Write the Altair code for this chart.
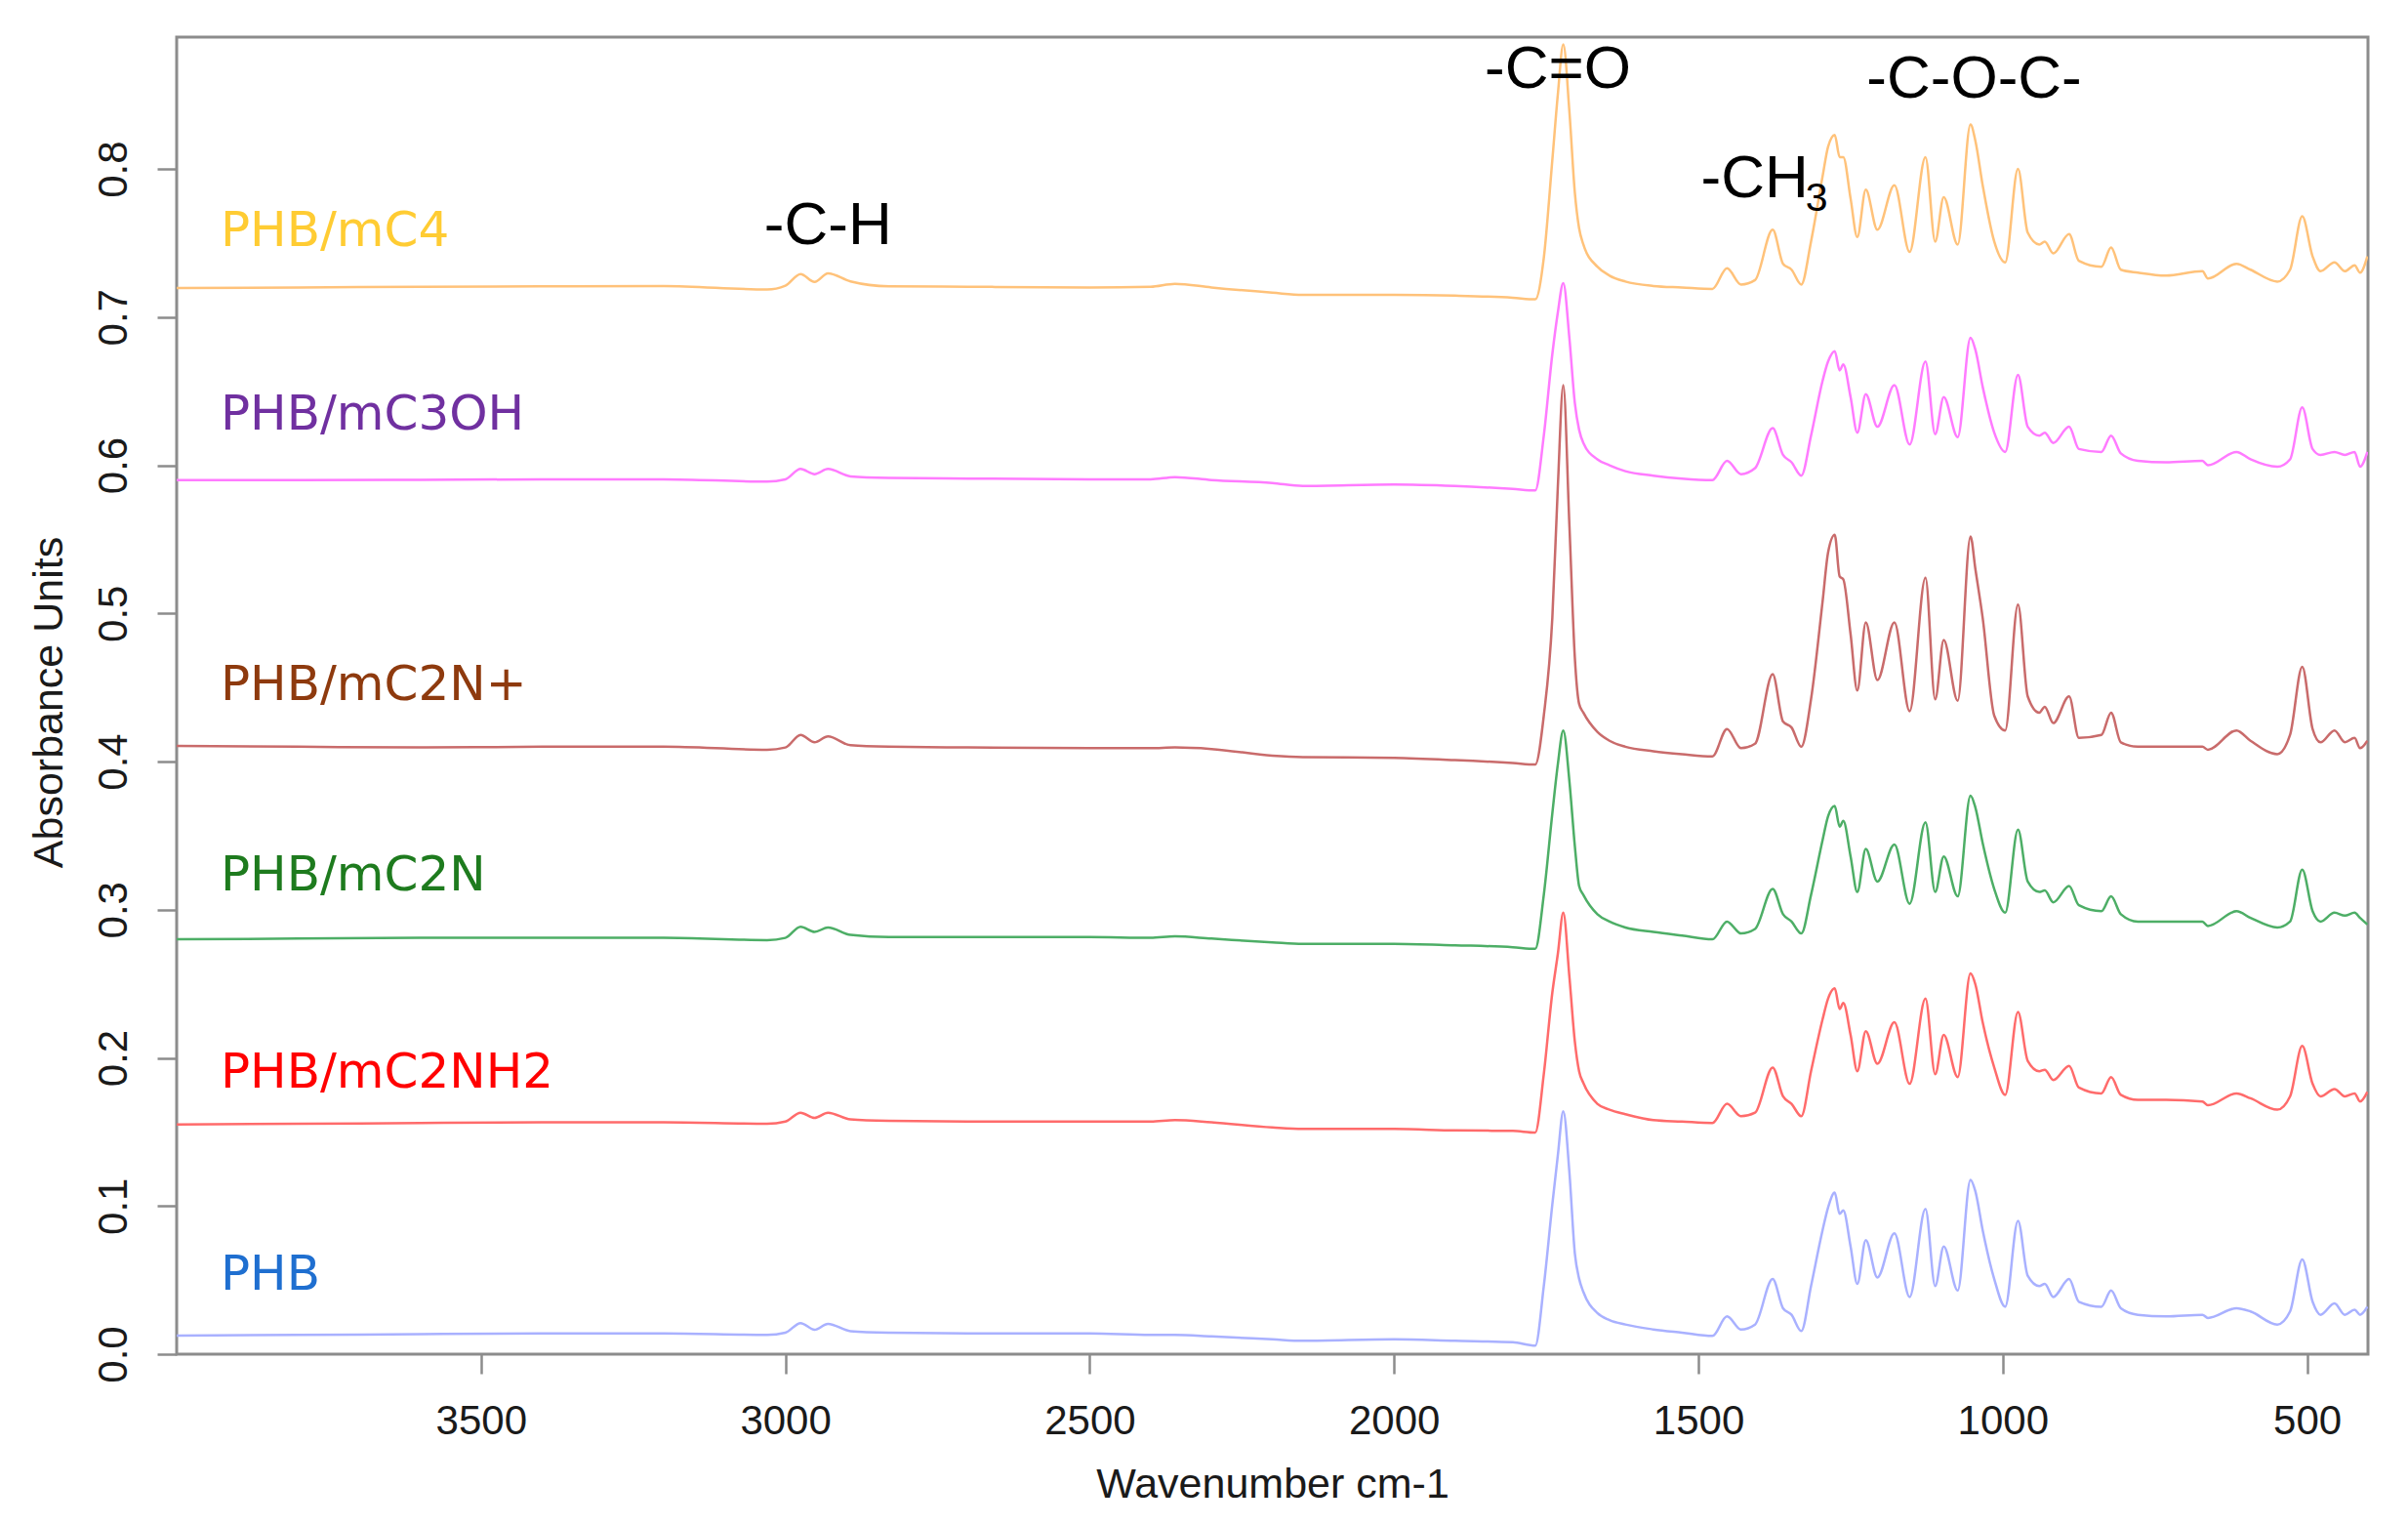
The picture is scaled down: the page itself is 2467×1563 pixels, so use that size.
import altair as alt
import pandas as pd

# ---- data ----
WAVENUMBER = [4000, 3800, 3600, 3400, 3200, 3030, 3000, 2975, 2952, 2930, 2893, 2830, 2700, 2500, 2400, 2360, 2300, 2200, 2150, 2000, 1900,
              1805, 1768, 1754, 1740, 1731, 1722, 1712, 1703, 1696, 1689, 1666, 1646,
              1620, 1574, 1527, 1477, 1453, 1430, 1407, 1378, 1361, 1347,
              1331, 1315, 1296, 1287, 1276, 1268, 1262, 1250, 1239, 1225,
              1206, 1178, 1153, 1127, 1111, 1097, 1074, 1053, 1045, 1033,
              1014, 996, 975, 959, 940, 931, 917, 891, 875, 838,
              822, 806, 778, 732, 672, 663, 616, 593, 549, 528,
              508, 491, 478, 455, 438, 422, 413, 401]

PHB_mC4 = [0.7197, 0.7200, 0.7205, 0.7208, 0.7210, 0.7186, 0.7212, 0.7290, 0.7237, 0.7295, 0.7241, 0.7208, 0.7205, 0.7200, 0.7205, 0.7225, 0.7200, 0.7165, 0.7150, 0.7150, 0.7145,
           0.7131, 0.7120, 0.7400, 0.8060, 0.8500, 0.8840, 0.8390, 0.7840, 0.7600, 0.7490, 0.7340, 0.7280,
           0.7240, 0.7210, 0.7200, 0.7190, 0.7330, 0.7220, 0.7250, 0.7590, 0.7360, 0.7320,
           0.7220, 0.7510, 0.7950, 0.8150, 0.8230, 0.8080, 0.8080, 0.7800, 0.7540, 0.7860,
           0.7590, 0.7890, 0.7440, 0.8080, 0.7510, 0.7810, 0.7490, 0.8300, 0.8190, 0.7890,
           0.7510, 0.7370, 0.8000, 0.7570, 0.7490, 0.7510, 0.7430, 0.7560, 0.7380, 0.7340,
           0.7470, 0.7320, 0.7300, 0.7280, 0.7310, 0.7260, 0.7360, 0.7320, 0.7240, 0.7320,
           0.7680, 0.7410, 0.7310, 0.7370, 0.7310, 0.7350, 0.7300, 0.7410]

PHB_mC3OH = [0.5900, 0.5900, 0.5902, 0.5905, 0.5905, 0.5890, 0.5905, 0.5975, 0.5940, 0.5975, 0.5925, 0.5915, 0.5910, 0.5905, 0.5905, 0.5920, 0.5900, 0.5880, 0.5860, 0.5870, 0.5860,
             0.584, 0.583, 0.620, 0.675, 0.703, 0.723, 0.686, 0.642, 0.624, 0.615, 0.604, 0.600,
             0.596, 0.593, 0.591, 0.590, 0.603, 0.594, 0.598, 0.625, 0.607, 0.602,
             0.593, 0.620, 0.657, 0.670, 0.677, 0.664, 0.668, 0.646, 0.622, 0.648,
             0.626, 0.654, 0.614, 0.670, 0.621, 0.646, 0.619, 0.686, 0.678, 0.653,
             0.622, 0.609, 0.661, 0.626, 0.620, 0.622, 0.615, 0.626, 0.611, 0.609,
             0.620, 0.608, 0.603, 0.602, 0.603, 0.600, 0.609, 0.604, 0.599, 0.604,
             0.639, 0.611, 0.607, 0.609, 0.607, 0.609, 0.599, 0.609]

PHB_mC2Nplus = [0.4105, 0.4100, 0.4095, 0.4100, 0.4100, 0.4080, 0.4095, 0.4180, 0.4130, 0.4170, 0.4110, 0.4100, 0.4095, 0.4090, 0.4090, 0.4095, 0.4085, 0.4040, 0.4030, 0.4025, 0.4010,
                0.399, 0.398, 0.431, 0.497, 0.585, 0.654, 0.560, 0.470, 0.439, 0.433, 0.420, 0.414,
                0.410, 0.407, 0.405, 0.4035, 0.422, 0.409, 0.412, 0.459, 0.427, 0.423,
                0.410, 0.442, 0.508, 0.541, 0.553, 0.525, 0.523, 0.486, 0.448, 0.494,
                0.455, 0.494, 0.434, 0.524, 0.442, 0.482, 0.441, 0.552, 0.530, 0.497,
                0.431, 0.421, 0.506, 0.444, 0.433, 0.437, 0.426, 0.444, 0.416, 0.418,
                0.433, 0.413, 0.410, 0.410, 0.410, 0.408, 0.421, 0.414, 0.405, 0.418,
                0.464, 0.422, 0.413, 0.421, 0.413, 0.416, 0.409, 0.414]

PHB_mC2N = [0.2800, 0.2805, 0.2810, 0.2810, 0.2810, 0.2795, 0.2810, 0.2885, 0.2850, 0.2880, 0.2830, 0.2815, 0.2815, 0.2815, 0.2810, 0.2820, 0.2805, 0.2780, 0.2770, 0.2770, 0.2760,
            0.2747, 0.2736, 0.310, 0.365, 0.398, 0.421, 0.387, 0.343, 0.316, 0.310, 0.297, 0.292,
            0.288, 0.285, 0.2825, 0.280, 0.292, 0.284, 0.287, 0.314, 0.297, 0.292,
            0.284, 0.310, 0.347, 0.363, 0.370, 0.356, 0.360, 0.336, 0.312, 0.341,
            0.319, 0.344, 0.304, 0.359, 0.312, 0.336, 0.309, 0.377, 0.369, 0.345,
            0.314, 0.298, 0.354, 0.319, 0.312, 0.313, 0.305, 0.316, 0.303, 0.299,
            0.309, 0.297, 0.292, 0.292, 0.292, 0.289, 0.299, 0.2945, 0.288, 0.292,
            0.327, 0.299, 0.292, 0.298, 0.296, 0.298, 0.2945, 0.290]

PHB_mC2NH2 = [0.1550, 0.1555, 0.1560, 0.1565, 0.1565, 0.1555, 0.1570, 0.1630, 0.1595, 0.1630, 0.1585, 0.1575, 0.1570, 0.1570, 0.1570, 0.1580, 0.1565, 0.1530, 0.1520, 0.1520, 0.1510,
              0.1507, 0.1496, 0.189, 0.244, 0.270, 0.298, 0.255, 0.211, 0.191, 0.183, 0.169, 0.165,
              0.162, 0.158, 0.157, 0.156, 0.169, 0.1606, 0.163, 0.1935, 0.174, 0.169,
              0.1606, 0.191, 0.226, 0.240, 0.247, 0.233, 0.237, 0.2155, 0.191, 0.218,
              0.196, 0.224, 0.1825, 0.240, 0.189, 0.2155, 0.187, 0.257, 0.2496, 0.224,
              0.1935, 0.175, 0.231, 0.198, 0.191, 0.192, 0.185, 0.1946, 0.180, 0.176,
              0.187, 0.175, 0.1716, 0.1716, 0.1705, 0.168, 0.176, 0.1727, 0.165, 0.174,
              0.208, 0.1825, 0.174, 0.179, 0.174, 0.176, 0.1705, 0.177]

PHB = [0.0125, 0.0130, 0.0135, 0.0140, 0.0140, 0.0130, 0.0145, 0.0210, 0.0165, 0.0205, 0.0155, 0.0145, 0.0140, 0.0140, 0.0130, 0.0130, 0.0120, 0.0100, 0.0090, 0.0100, 0.0090,
       0.008, 0.0057, 0.046, 0.101, 0.134, 0.164, 0.123, 0.068, 0.051, 0.042, 0.0277, 0.023,
       0.020, 0.0167, 0.0145, 0.0123, 0.0255, 0.0167, 0.020, 0.0507, 0.031, 0.0266,
       0.0156, 0.046, 0.0837, 0.099, 0.109, 0.0947, 0.097, 0.0727, 0.0474, 0.077,
       0.0518, 0.0815, 0.0386, 0.098, 0.046, 0.0727, 0.043, 0.1177, 0.110, 0.0837,
       0.0507, 0.032, 0.090, 0.053, 0.046, 0.0474, 0.0386, 0.0507, 0.0354, 0.032,
       0.043, 0.031, 0.0266, 0.0255, 0.0266, 0.0244, 0.031, 0.0288, 0.020, 0.0288,
       0.064, 0.0354, 0.0266, 0.0343, 0.0266, 0.030, 0.0266, 0.032]

SERIES = ["PHB/mC4", "PHB/mC3OH", "PHB/mC2N+", "PHB/mC2N", "PHB/mC2NH2", "PHB"]
SERIES_VALUES = [PHB_mC4, PHB_mC3OH, PHB_mC2Nplus, PHB_mC2N, PHB_mC2NH2, PHB]
LINE_COLORS = ["#FFC27A", "#FF7BFF", "#C96B6B", "#4DAE66", "#FF6B6B", "#A9B1FF"]

LABEL_COLORS = ["#FFCC33", "#7030A0", "#8E3A0E", "#1E7B1E", "#FF0000", "#1F6FD0"]
LABEL_X = [3928, 3928, 3928, 3928, 3928, 3928]
LABEL_Y = [0.748, 0.624, 0.4415, 0.313, 0.180, 0.0435]

ANNOT_TEXT = ["-C-H", "-C=O", "-C-O-C-"]
ANNOT_X = [2930, 1731, 1047]
ANNOT_Y = [0.749, 0.855, 0.848]
CH3_TEXT = ["-CH"]
CH3_X = [1496]
CH3_Y = [0.781]
SUB_TEXT = ["3"]
SUB_X = [1324]
SUB_Y = [0.772]

X_TICKS = [500, 1000, 1500, 2000, 2500, 3000, 3500]
Y_TICKS = [0.0, 0.1, 0.2, 0.3, 0.4, 0.5, 0.6, 0.7, 0.8]

# ---- tables ----
rows = []
for name, vals in zip(SERIES, SERIES_VALUES):
    for w, v in zip(WAVENUMBER, vals):
        rows.append({"wn": w, "abs": v, "series": name})
df = pd.DataFrame(rows)

labels_df = pd.DataFrame({"wn": LABEL_X, "abs": LABEL_Y, "label": SERIES, "tcolor": LABEL_COLORS})
annot_df = pd.DataFrame({"wn": ANNOT_X, "abs": ANNOT_Y, "label": ANNOT_TEXT})
ch3_df = pd.DataFrame({"wn": CH3_X, "abs": CH3_Y, "label": CH3_TEXT})
sub_df = pd.DataFrame({"wn": SUB_X, "abs": SUB_Y, "label": SUB_TEXT})

x_scale = alt.Scale(domain=[400, 4000], reverse=True, nice=False, zero=False)
y_scale = alt.Scale(domain=[0, 0.889], nice=False, zero=False)

x_enc = alt.X("wn:Q", scale=x_scale,
              axis=alt.Axis(values=X_TICKS, format="d", title="Wavenumber cm-1",
                            labelBaseline="alphabetic", labelPadding=61,
                            titleY=146, titleBaseline="alphabetic"))
y_enc = alt.Y("abs:Q", scale=y_scale,
              axis=alt.Axis(values=Y_TICKS, format=".1f", title="Absorbance Units",
                            labelAngle=270, labelAlign="center", labelBaseline="alphabetic",
                            labelPadding=32, labelFlush=False, labelOverlap=False,
                            titleAngle=270, titleX=-118, titleY=681,
                            titleAlign="center", titleBaseline="alphabetic"))

lines = alt.Chart(df).mark_line(strokeWidth=2.5, clip=True, interpolate="monotone").encode(
    x=x_enc, y=y_enc,
    color=alt.Color("series:N", scale=alt.Scale(domain=SERIES, range=LINE_COLORS), legend=None),
)

labels = alt.Chart(labels_df).mark_text(align="left", baseline="alphabetic",
                                        font="DejaVu Sans", fontSize=50).encode(
    x=x_enc, y=y_enc, text="label:N", color=alt.Color("tcolor:N", scale=None)
)

annot = alt.Chart(annot_df).mark_text(align="center", baseline="alphabetic",
                                      font="Liberation Sans", fontSize=62, color="black").encode(
    x=x_enc, y=y_enc, text="label:N"
)
ch3 = alt.Chart(ch3_df).mark_text(align="left", baseline="alphabetic",
                                  font="Liberation Sans", fontSize=62, color="black").encode(
    x=x_enc, y=y_enc, text="label:N"
)
sub = alt.Chart(sub_df).mark_text(align="left", baseline="alphabetic",
                                  font="Liberation Sans", fontSize=41, color="black").encode(
    x=x_enc, y=y_enc, text="label:N"
)

chart = alt.layer(lines, labels, annot, ch3, sub).properties(
    width=2245, height=1349,
    autosize=alt.AutoSizeParams(type="none"),
    padding={"left": 173, "top": 30, "right": 33, "bottom": 168},
    background="white",
).configure_view(
    stroke="#8c8c8c", strokeWidth=3
).configure_axis(
    grid=False, domain=False,
    tickColor="#8c8c8c", tickWidth=2.5, tickSize=20,
    labelFont="Liberation Sans", labelFontSize=42, labelColor="#1a1a1a",
    titleFont="Liberation Sans", titleFontSize=43, titleFontWeight="normal", titleColor="#1a1a1a",
)

chart.save("out.html", embed_options={"renderer": "svg", "actions": False})
